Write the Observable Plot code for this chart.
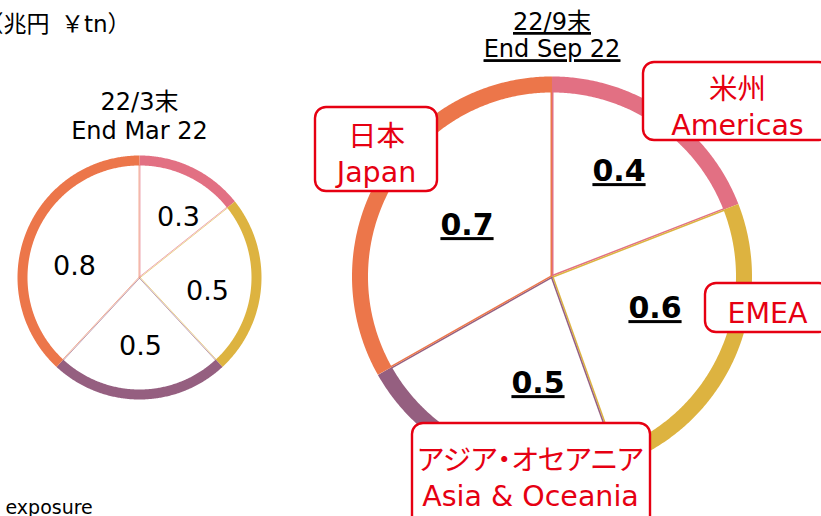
<!DOCTYPE html>
<html><head><meta charset="utf-8">
<script src="https://cdn.jsdelivr.net/npm/d3@7"></script>
<script src="https://cdn.jsdelivr.net/npm/@observablehq/plot@0.6"></script>
<style>
html,body{margin:0;padding:0;background:#fff;}
#chart svg{display:block;}
</style>
</head><body><div id="chart"></div>
<script>
// ---------- data ----------
const regions = ["Americas", "EMEA", "Asia & Oceania", "Japan"];
const regionsJa = ["米州", "EMEA", "アジア・オセアニア", "日本"];
const valuesMar22 = [0.3, 0.5, 0.5, 0.8];
const valuesSep22 = [0.42, 0.56, 0.49, 0.73];
const labelsMar22 = ["0.3", "0.5", "0.5", "0.8"];
const labelsSep22 = ["0.4", "0.6", "0.5", "0.7"];
const periodTitles = ["22/3末\nEnd Mar 22", "22/9末\nEnd Sep 22"];
const unitLabel = "（兆円\u2002￥tn）";
const footLabel = "exposure";
const regionColors = ["#E27083", "#DDB340", "#955F80", "#EC764A"];

// ---------- layout ----------
const W = 821, H = 516;
const FONT = "'DejaVu Sans', 'Noto Sans CJK JP', sans-serif";
const RED = "#E60012";
const pies = [
  {key: "mar", values: valuesMar22, labels: labelsMar22, cx: 139, cy: 277, r: 122, ring: 10,
   fontSize: 27, fontWeight: "normal", edgeWidth: 1, edgeOpacity: 0.6,
   labelOffsets: [[39, -60], [68, 14], [1, 69], [-65, -11]],
   title: periodTitles[0], titleY: 114.5, titleLH: 1.2},
  {key: "sep", values: valuesSep22, labels: labelsSep22, cx: 551.5, cy: 276, r: 200, ring: 16,
   fontSize: 30, fontWeight: "bold", edgeWidth: 1.5, edgeOpacity: 1,
   labelOffsets: [[67, -105], [103, 32], [-14, 107], [-85, -51]],
   title: periodTitles[1], titleY: 34.5, titleLH: 1.14}
];
const calloutLayout = [
  {i: 3, x1: 315, x2: 437, y1: 107, y2: 191, tx: 376, ty: 152},
  {i: 0, x1: 643, x2: 830, y1: 62, y2: 140, tx: 737, ty: 105},
  {i: 1, x1: 705, x2: 830, y1: 283, y2: 332, tx: 767, ty: 311},
  {i: 2, x1: 412, x2: 650, y1: 423, y2: 540, tx: 530, ty: 476}
];

// ---------- geometry from data ----------
const pieGen = d3.pie().sort(null).value(d => d);
const ringPts = [], edges = [], valueLabels = [];
for (const p of pies) {
  const arcs = pieGen(p.values);
  const rm = p.r - p.ring / 2, ri = p.r - p.ring + 0.5;
  const off = p.edgeWidth / 2;
  arcs.forEach((a, i) => {
    const n = Math.max(2, Math.ceil((a.endAngle - a.startAngle) / (Math.PI / 360)));
    for (let k = 0; k <= n; k++) {
      const t = a.startAngle + (a.endAngle - a.startAngle) * k / n;
      ringPts.push({pie: p.key, series: p.key + i, region: regions[i],
        x: p.cx + rm * Math.sin(t), y: p.cy - rm * Math.cos(t)});
    }
    // each slice's two radial edges, nudged half a line width into the slice
    for (const [t, s] of [[a.startAngle, 1], [a.endAngle, -1]]) {
      const ox = s * off * Math.cos(t), oy = s * off * Math.sin(t);
      edges.push({pie: p.key, region: regions[i], x1: p.cx + ox, y1: p.cy + oy,
        x2: p.cx + ri * Math.sin(t) + ox, y2: p.cy - ri * Math.cos(t) + oy});
    }
    valueLabels.push({pie: p.key, text: p.labels[i],
      x: p.cx + p.labelOffsets[i][0], y: p.cy + p.labelOffsets[i][1]});
  });
}
const callouts = calloutLayout.map(c => ({...c,
  text: regionsJa[c.i] === regions[c.i] ? regions[c.i] : regionsJa[c.i] + "\n" + regions[c.i]}));

const marks = [];
for (const p of pies) {
  marks.push(Plot.link(edges.filter(d => d.pie === p.key), {x1: "x1", y1: "y1", x2: "x2", y2: "y2", stroke: "region",
    strokeWidth: p.edgeWidth, strokeOpacity: p.edgeOpacity}));
  marks.push(Plot.line(ringPts.filter(d => d.pie === p.key), {x: "x", y: "y", z: "series", stroke: "region",
    strokeWidth: p.ring, strokeLinecap: "butt", strokeLinejoin: "round"}));
}
for (const p of pies) {
  marks.push(Plot.text(valueLabels.filter(d => d.pie === p.key), {x: "x", y: "y", text: "text",
    fontSize: p.fontSize, fontWeight: p.fontWeight, fill: "#000", ariaDescription: "values-" + p.key}));
  marks.push(Plot.text([p.title], {x: () => p.cx, y: () => p.titleY, text: d => d,
    fontSize: 24, lineHeight: p.titleLH, fill: "#000", ariaDescription: "title-" + p.key}));
}
marks.push(
  Plot.rect(callouts, {x1: "x1", x2: "x2", y1: "y1", y2: "y2", fill: "#fff", stroke: RED, strokeWidth: 2.4, rx: 11}),
  Plot.text(callouts, {x: "tx", y: "ty", text: "text", fill: RED, fontSize: 28.5, lineHeight: 1.25, ariaDescription: "callouts"}),
  Plot.text([unitLabel], {x: () => -20, y: () => 24, text: d => d, textAnchor: "start", fontSize: 23, fill: "#000"}),
  Plot.text([footLabel], {x: () => 5, y: () => 507, text: d => d, textAnchor: "start", fontSize: 19, fill: "#000"})
);

const chart = Plot.plot({
  width: W, height: H, margin: 0,
  x: {domain: [0, W], range: [0, W], axis: null},
  y: {domain: [0, H], range: [0, H], axis: null},
  color: {domain: regions, range: regionColors},
  style: {fontFamily: FONT, background: "#fff", overflow: "hidden"},
  marks
});
const sel = d3.select(chart);
sel.selectAll('g[aria-description="values-sep"] text, g[aria-description="title-sep"] text, g[aria-description="title-sep"] tspan')
  .style("text-decoration", "underline");
sel.selectAll('g[aria-description="callouts"] text, g[aria-description="callouts"] tspan')
  .style("font-feature-settings", "'palt'");
document.getElementById("chart").append(chart);
</script>
</body></html>
